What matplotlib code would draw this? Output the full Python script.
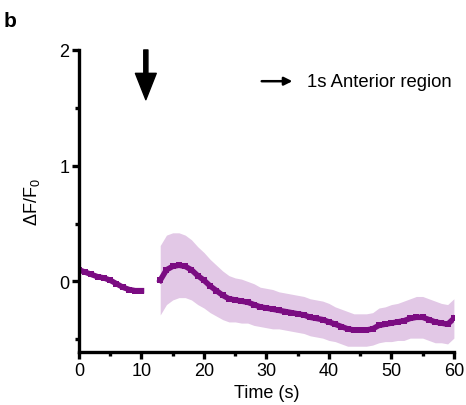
import matplotlib
matplotlib.use("Agg")
import matplotlib.pyplot as plt
import numpy as np

plt.rcParams['font.family'] = ['Liberation Sans', 'DejaVu Sans']
plt.rcParams['mathtext.default'] = 'regular'

# before stimulus gap
t1 = [0, 1, 2, 3, 4, 5, 6, 7, 8, 9, 10]
mean1 = [0.10, 0.08, 0.06, 0.04, 0.03, 0.01, -0.02, -0.05, -0.07, -0.08, -0.08]
err1 = [0.02, 0.02, 0.02, 0.02, 0.02, 0.02, 0.02, 0.02, 0.02, 0.02, 0.02]

# after stimulus
t2 = list(range(13, 61))
mean2 = [0.01, 0.10, 0.13, 0.14, 0.13, 0.10, 0.05, 0.01, -0.04, -0.08,
         -0.12, -0.15, -0.16, -0.17, -0.18, -0.20, -0.22, -0.23, -0.24, -0.25,
         -0.26, -0.27, -0.28, -0.29, -0.31, -0.32, -0.33, -0.35, -0.37, -0.39,
         -0.41, -0.42, -0.42, -0.42, -0.41, -0.38, -0.37, -0.36, -0.35, -0.34,
         -0.32, -0.31, -0.31, -0.33, -0.35, -0.36, -0.37, -0.32]
err2 = [0.30, 0.30, 0.29, 0.28, 0.27, 0.26, 0.25, 0.24, 0.23, 0.22,
        0.21, 0.20, 0.19, 0.19, 0.18, 0.18, 0.17, 0.17, 0.17, 0.16,
        0.16, 0.16, 0.16, 0.16, 0.16, 0.16, 0.16, 0.16, 0.15, 0.15,
        0.15, 0.14, 0.14, 0.14, 0.14, 0.15, 0.15, 0.16, 0.16, 0.17,
        0.17, 0.18, 0.18, 0.18, 0.18, 0.17, 0.17, 0.17]

purple = '#7b0c82'
band = '#e2c8e6'

fig = plt.figure(figsize=(4.66, 4.06), dpi=100)
ax = fig.add_axes([0.1695, 0.1305, 0.8045, 0.744])

for t, m, e in [(t1, mean1, err1), (t2, mean2, err2)]:
    m = np.array(m)
    e = np.array(e)
    ax.fill_between(t, m - e, m + e, color=band, lw=0)
    ax.plot(t, m, color=purple, lw=4, marker='s', ms=4.5, mew=0)

ax.set_xlim(0, 60)
ax.set_ylim(-0.61, 2.0)
ax.set_xticks([0, 10, 20, 30, 40, 50, 60])
ax.set_xticks([5, 15, 25, 35, 45, 55], minor=True)
ax.set_yticks([0, 1, 2])
ax.set_yticks([-0.5, 0.5, 1.5], minor=True)

for s in ['top', 'right']:
    ax.spines[s].set_visible(False)
for s in ['left', 'bottom']:
    ax.spines[s].set_linewidth(2.4)
ax.tick_params(which='major', length=5, width=2.4, labelsize=13, pad=2)
ax.tick_params(which='minor', length=3, width=2.4)

ax.set_xlabel('Time (s)', fontsize=13, labelpad=4)
ax.set_ylabel('ΔF/F$_0$', fontsize=13, labelpad=12)

# stimulus arrow
ax.annotate('', xy=(10.7, 1.57), xytext=(10.7, 2.0), annotation_clip=False,
            arrowprops=dict(facecolor='black', edgecolor='black', width=3,
                            headwidth=15, headlength=19))
# legend arrow
ax.annotate('', xy=(34.6, 1.73), xytext=(28.8, 1.73),
            arrowprops=dict(arrowstyle='-|>', color='black', lw=1.8,
                            mutation_scale=12))
ax.text(36.5, 1.73, '1s Anterior region', fontsize=13.3, va='center')

fig.text(0.008, 0.946, 'b', fontsize=15, fontweight='bold', va='center')

fig.savefig('out.png', dpi=100)
